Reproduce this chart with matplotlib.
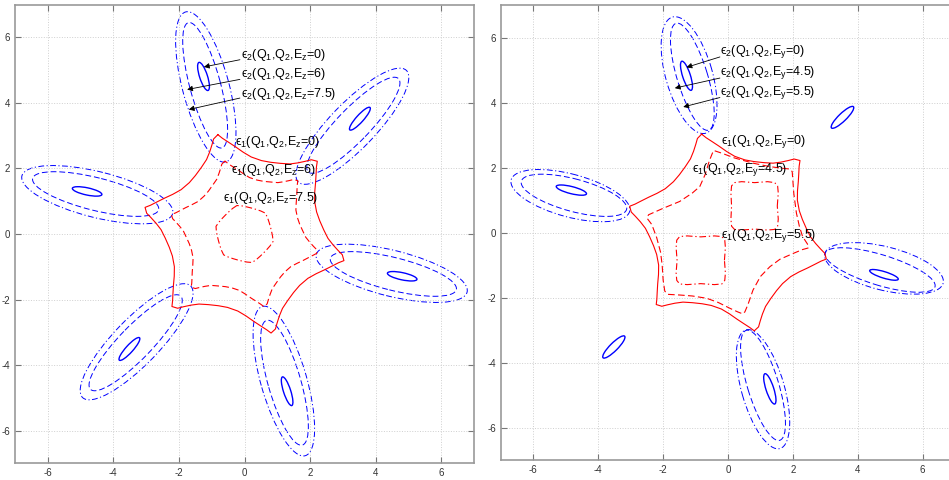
import numpy as np
import matplotlib.pyplot as plt
from matplotlib.patches import Ellipse

plt.rcParams['font.family'] = ['Liberation Sans', 'DejaVu Sans']
plt.rcParams['mathtext.fontset'] = 'custom'
plt.rcParams['mathtext.rm'] = 'Liberation Sans'
plt.rcParams['mathtext.it'] = 'Liberation Sans:italic'
plt.rcParams['axes.unicode_minus'] = False

# ---- epsilon_1 contours, polar form: angle [deg], radius ----
e1_zero_ang = [105, 108, 110, 113, 117, 123, 130, 137, 145, 151, 156, 160, 163,
               165, 168, 170, 173, 177, 183, 190, 197, 205, 211, 216, 220, 223,
               225, 228, 230, 233, 237, 243, 250, 257, 265, 271, 276, 280, 283,
               285, 288, 290, 293, 297, 303, 310, 317, 325, 331, 336, 340, 343,
               345, 348, 350, 353, 357, 363, 370, 377, 385, 391, 396, 400, 403,
               405, 408, 410, 413, 417, 423, 430, 437, 445, 451, 456, 460, 463]
e1_zero_rad = [3.14, 3.05, 2.90, 2.72, 2.55, 2.42, 2.33, 2.30, 2.36, 2.50, 2.68, 2.85, 3.00,
               3.14, 3.05, 2.90, 2.72, 2.55, 2.42, 2.33, 2.30, 2.36, 2.50, 2.68, 2.85, 3.00,
               3.13, 3.05, 2.90, 2.72, 2.55, 2.42, 2.33, 2.30, 2.36, 2.50, 2.68, 2.85, 3.00,
               3.13, 3.05, 2.90, 2.72, 2.55, 2.42, 2.33, 2.30, 2.36, 2.50, 2.68, 2.85, 3.00,
               3.14, 3.05, 2.90, 2.72, 2.55, 2.42, 2.33, 2.30, 2.36, 2.50, 2.68, 2.85, 3.00,
               3.14, 3.05, 2.90, 2.72, 2.55, 2.42, 2.33, 2.30, 2.36, 2.50, 2.68, 2.85, 3.00]

# Ez = 6 (left panel), same angles
ez6_rad = [2.31, 2.24, 2.13, 2.00, 1.87, 1.78, 1.71, 1.69, 1.73, 1.84, 1.97, 2.09, 2.20,
           2.31, 2.24, 2.13, 2.00, 1.87, 1.78, 1.71, 1.69, 1.73, 1.84, 1.97, 2.09, 2.20,
           2.30, 2.24, 2.13, 2.00, 1.87, 1.78, 1.71, 1.69, 1.73, 1.84, 1.97, 2.09, 2.20,
           2.30, 2.24, 2.13, 2.00, 1.87, 1.78, 1.71, 1.69, 1.73, 1.84, 1.97, 2.09, 2.20,
           2.28, 2.24, 2.13, 2.00, 1.87, 1.78, 1.71, 1.69, 1.73, 1.84, 1.97, 2.09, 2.20,
           2.30, 2.24, 2.13, 2.00, 1.87, 1.78, 1.71, 1.69, 1.73, 1.84, 1.97, 2.09, 2.20]

# Ez = 7.5 (left panel), small hexagon
ez75_ang = [105, 115, 125, 135, 145, 155, 165, 175, 185, 195, 205, 215,
            225, 235, 245, 255, 265, 275, 285, 295, 305, 315, 325, 335,
            345, 355, 365, 375, 385, 395, 405, 415, 425, 435, 445, 455]
ez75_rad = [0.90, 0.86, 0.83, 0.82, 0.83, 0.86, 0.90, 0.86, 0.83, 0.82, 0.83, 0.86,
            0.90, 0.86, 0.83, 0.82, 0.83, 0.86, 0.90, 0.86, 0.83, 0.82, 0.83, 0.86,
            0.90, 0.86, 0.83, 0.82, 0.83, 0.86, 0.90, 0.86, 0.83, 0.82, 0.83, 0.86]

# Ey = 4.5 (right panel)
ey45_x = [-0.41, -0.20, 0.20, 0.77, 1.25, 1.60, 1.90, 1.98, 2.00, 2.03, 2.11, 2.20, 2.30,
          2.45, 2.48, 2.30, 2.01, 1.60, 1.29, 1.00, 0.77, 0.62, 0.52, 0.45, 0.30, 0.06,
          -0.30, -0.66, -1.10, -1.49, -1.85, -1.95, -2.00, -2.03, -2.08, -2.20, -2.35,
          -2.50, -2.45, -2.00, -1.49, -1.10, -0.87, -0.70, -0.58, -0.48]
ey45_y = [2.52, 2.45, 2.30, 2.14, 2.04, 1.99, 1.96, 1.88, 1.60, 1.20, 0.60, 0.20, -0.12,
          -0.35, -0.47, -0.52, -0.64, -0.82, -1.05, -1.35, -1.77, -2.20, -2.44, -2.50, -2.44, -2.33,
          -2.15, -2.02, -1.95, -1.92, -1.90, -1.80, -1.46, -1.00, -0.60, -0.15, 0.25,
          0.45, 0.55, 0.75, 0.96, 1.22, 1.42, 1.80, 2.20, 2.45]

# Ey = 5.5 (right panel), two rounded squares
ey55a_x = [1.52, 1.55, 1.53, 1.44, 1.22, 0.82, 0.42, 0.20, 0.11, 0.09, 0.11,
           0.09, 0.11, 0.20, 0.42, 0.82, 1.22, 1.44, 1.53, 1.55]
ey55a_y = [0.82, 1.22, 1.44, 1.54, 1.57, 1.54, 1.57, 1.54, 1.44, 1.22, 0.82,
           0.42, 0.20, 0.10, 0.08, 0.11, 0.08, 0.10, 0.20, 0.42]
ey55b_x = [-0.11, -0.08, -0.10, -0.19, -0.42, -0.84, -1.26, -1.49, -1.58, -1.60, -1.57,
           -1.60, -1.58, -1.49, -1.26, -0.84, -0.42, -0.19, -0.10, -0.08]
ey55b_y = [-0.85, -0.46, -0.23, -0.12, -0.10, -0.13, -0.10, -0.12, -0.23, -0.46, -0.85,
           -1.24, -1.47, -1.58, -1.60, -1.57, -1.60, -1.58, -1.47, -1.24]

# ---- epsilon_2 contours: (centre x, centre y, semi-major, semi-minor, tilt deg) ----
ez0_lobes = [(3.52, 3.52, 0.46, 0.11, 48), (-1.25, 4.81, 0.45, 0.12, 108),
             (-4.80, 1.30, 0.46, 0.11, 168), (-3.51, -3.51, 0.46, 0.11, 228),
             (1.30, -4.80, 0.46, 0.11, 288), (4.81, -1.29, 0.46, 0.11, 348)]
ez6_lobes = [(3.32, 3.32, 1.98, 0.50, 46), (-1.20, 4.54, 1.98, 0.47, 105),
             (-4.54, 1.22, 1.98, 0.50, 166), (-3.32, -3.32, 1.98, 0.50, 226),
             (1.22, -4.54, 1.98, 0.50, 286), (4.54, -1.22, 1.98, 0.50, 346)]
ez75_lobes = [(3.29, 3.29, 2.37, 0.70, 46), (-1.18, 4.49, 2.37, 0.71, 105),
              (-4.49, 1.20, 2.37, 0.70, 166), (-3.29, -3.29, 2.37, 0.70, 226),
              (1.20, -4.49, 2.37, 0.70, 286), (4.49, -1.20, 2.37, 0.70, 346)]

ey0_lobes = [(3.53, 3.55, 0.47, 0.12, 44), (-1.28, 4.83, 0.47, 0.12, 108),
             (-4.83, 1.31, 0.48, 0.11, 166), (-3.52, -3.52, 0.47, 0.12, 45),
             (1.29, -4.81, 0.49, 0.12, 288), (4.81, -1.30, 0.46, 0.10, 343)]
ey45_lobes = [(-1.10, 4.80, 1.72, 0.47, 107), (-4.75, 1.15, 1.68, 0.50, 165),
              (1.08, -4.70, 1.77, 0.48, 287), (4.69, -1.15, 1.77, 0.47, 343)]
ey55_lobes = [(-1.20, 4.85, 1.86, 0.72, 106), (-4.86, 1.14, 1.89, 0.66, 165),
              (1.08, -4.82, 1.90, 0.66, 286), (4.81, -1.10, 1.88, 0.67, 346)]

ticks = [-6, -4, -2, 0, 2, 4, 6]

DASH = (0, (6, 3))
DASHDOT = (0, (6, 2.5, 1.2, 2.5))
EPS = '\u03f5'


def polar_line(ax, ang, rad, **kw):
    a = np.deg2rad(np.r_[ang, ang[0]])
    r = np.r_[rad, rad[0]]
    ax.plot(r * np.cos(a), r * np.sin(a), **kw)


def closed_line(ax, x, y, **kw):
    ax.plot(np.r_[x, x[0]], np.r_[y, y[0]], **kw)


def lobes(ax, items, **kw):
    for cx, cy, a, b, t in items:
        ax.add_patch(Ellipse((cx, cy), 2 * a, 2 * b, angle=t, fill=False, **kw))


def label(ax, x, y, band, field, val):
    s = EPS + '$_' + band + '$(Q$_1$,Q$_2$,E$_\\mathrm{' + field + '}$=' + val + ')'
    ax.text(x, y, s, fontsize=9, va='center')


def style(ax):
    ax.set_xlim(-7, 7)
    ax.set_ylim(-7, 7)
    ax.set_xticks(ticks)
    ax.set_yticks(ticks)
    ax.grid(True, ls=':', color='#cfcfcf', lw=0.7)
    ax.tick_params(direction='in', top=True, right=True, length=4, width=0.8,
                   color='#777777', labelsize=7, labelcolor='#333333')
    for s in ax.spines.values():
        s.set_color('#999999')
        s.set_linewidth(1.2)


fig = plt.figure(figsize=(9.49, 4.8), dpi=100)
axL = fig.add_axes([15 / 949, 1 - 463.3 / 480, 459 / 949, 458.6 / 480])
axR = fig.add_axes([501 / 949, 1 - 460 / 480, 454 / 949, 454.7 / 480])

red = dict(color='red', lw=0.8)
arrow = dict(arrowstyle='-|>', color='k', lw=0.6, mutation_scale=8, shrinkA=0, shrinkB=0)

# left panel (Ez)
style(axL)
polar_line(axL, e1_zero_ang, e1_zero_rad, ls='-', **red)
polar_line(axL, e1_zero_ang, ez6_rad, ls=DASH, **red)
polar_line(axL, ez75_ang, ez75_rad, ls=DASHDOT, **red)
lobes(axL, ez0_lobes, ec='blue', lw=1.0, ls='-')
lobes(axL, ez6_lobes, ec='blue', lw=0.7, ls=DASH)
lobes(axL, ez75_lobes, ec='blue', lw=0.7, ls=DASHDOT)

label(axL, -0.12, 5.45, '2', 'z', '0')
label(axL, -0.12, 4.87, '2', 'z', '6')
label(axL, -0.12, 4.28, '2', 'z', '7.5')
axL.annotate('', xy=(-1.24, 5.1), xytext=(-0.14, 5.32), arrowprops=arrow)
axL.annotate('', xy=(-1.75, 4.41), xytext=(-0.14, 4.72), arrowprops=arrow)
axL.annotate('', xy=(-1.70, 3.80), xytext=(-0.14, 4.15), arrowprops=arrow)
label(axL, -0.30, 2.81, '1', 'z', '0')
label(axL, -0.40, 1.95, '1', 'z', '6')
label(axL, -0.67, 1.09, '1', 'z', '7.5')

# right panel (Ey)
style(axR)
polar_line(axR, e1_zero_ang, e1_zero_rad, ls='-', **red)
closed_line(axR, ey45_x, ey45_y, ls=DASH, **red)
closed_line(axR, ey55a_x, ey55a_y, ls=DASHDOT, **red)
closed_line(axR, ey55b_x, ey55b_y, ls=DASHDOT, **red)
lobes(axR, ey0_lobes, ec='blue', lw=1.0, ls='-')
lobes(axR, ey45_lobes, ec='blue', lw=0.7, ls=DASH)
lobes(axR, ey55_lobes, ec='blue', lw=0.7, ls=DASHDOT)

label(axR, -0.25, 5.58, '2', 'y', '0')
label(axR, -0.25, 4.94, '2', 'y', '4.5')
label(axR, -0.25, 4.32, '2', 'y', '5.5')
axR.annotate('', xy=(-1.28, 5.09), xytext=(-0.25, 5.41), arrowprops=arrow)
axR.annotate('', xy=(-1.64, 4.45), xytext=(-0.25, 4.76), arrowprops=arrow)
axR.annotate('', xy=(-1.38, 3.87), xytext=(-0.25, 4.16), arrowprops=arrow)
label(axR, -0.22, 2.81, '1', 'y', '0')
label(axR, -1.11, 1.93, '1', 'y', '4.5')
label(axR, -0.22, -0.10, '1', 'y', '5.5')

fig.savefig('out.png', dpi=100)
